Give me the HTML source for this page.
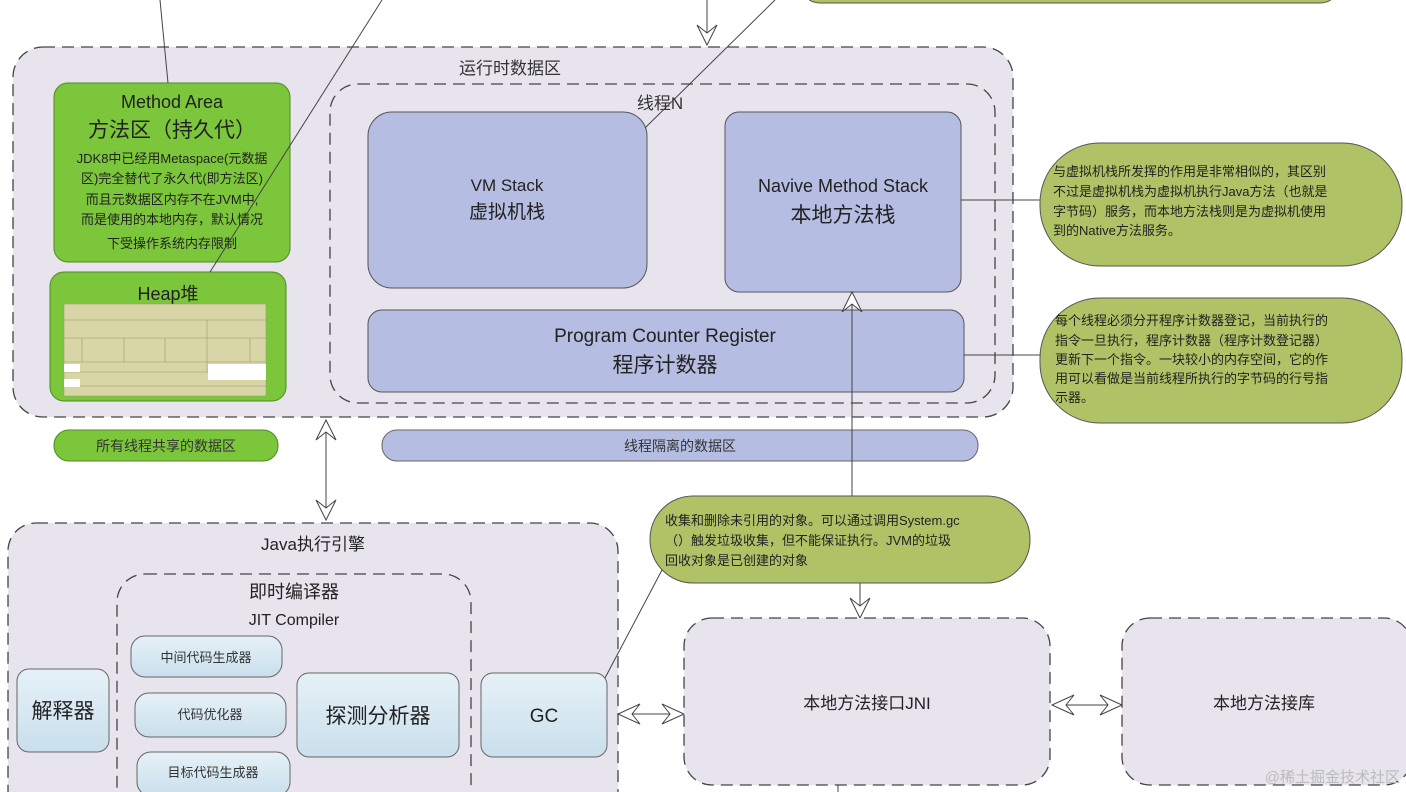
<!DOCTYPE html>
<html><head><meta charset="utf-8"><style>
html,body{margin:0;padding:0;background:#fff;width:1406px;height:792px;overflow:hidden;}
svg{display:block;font-family:"Liberation Sans","Noto Sans CJK SC",sans-serif;}
</style></head><body>
<svg width="1406" height="792" viewBox="0 0 1406 792" xmlns="http://www.w3.org/2000/svg">
<defs>
<linearGradient id="bl" x1="0" y1="0" x2="0" y2="1"><stop offset="0" stop-color="#e6f1f7"/><stop offset="1" stop-color="#c9dfec"/></linearGradient>
</defs>
<rect x="800" y="-40" width="540" height="43" rx="20" fill="#b0c266" stroke="#555"/>
<line x1="707" y1="0" x2="707" y2="40" stroke="#444"/>
<path d="M697 25 L707 45 L717 25 L707 33 Z" fill="#fff" stroke="#444"/>

<rect x="13" y="47" width="1000" height="370" rx="30" fill="#e7e4ee" stroke="#444" stroke-width="1.3" stroke-dasharray="12,7"/>
<text x="510" y="74" font-size="17" text-anchor="middle" fill="#333">运行时数据区</text>
<rect x="54" y="83" width="236" height="179" rx="14" fill="#7cc63c" stroke="#4f8a22"/>
<text x="172" y="108" font-size="18" text-anchor="middle" fill="#222">Method Area</text>
<text x="172" y="137" font-size="21" text-anchor="middle" fill="#222">方法区（持久代）</text>
<g font-size="13" fill="#222" text-anchor="middle">
<text x="172" y="163">JDK8中已经用Metaspace(元数据</text>
<text x="172" y="183">区)完全替代了永久代(即方法区)</text>
<text x="172" y="204">而且元数据区内存不在JVM中,</text>
<text x="172" y="224">而是使用的本地内存，默认情况</text>
<text x="172" y="248">下受操作系统内存限制</text>
</g>
<rect x="50" y="272" width="236" height="129" rx="14" fill="#7cc63c" stroke="#4f8a22"/>
<text x="168" y="300" font-size="18" text-anchor="middle" fill="#222">Heap堆</text>
<rect x="64" y="304" width="202" height="92" fill="#d8d6a6" stroke="#9a9870" stroke-width="0.5"/>
<g stroke="#9a9870" stroke-width="0.6"><line x1="64" y1="320" x2="266" y2="320"/><line x1="64" y1="338" x2="266" y2="338"/><line x1="64" y1="362" x2="266" y2="362"/><line x1="64" y1="372" x2="266" y2="372"/><line x1="64" y1="386" x2="266" y2="386"/><line x1="207" y1="320" x2="207" y2="372"/><line x1="82" y1="338" x2="82" y2="362"/><line x1="124" y1="338" x2="124" y2="362"/><line x1="165" y1="338" x2="165" y2="362"/><line x1="250" y1="338" x2="250" y2="362"/></g>
<rect x="64" y="364" width="16" height="8" fill="#fff"/><rect x="208" y="364" width="58" height="16" fill="#fff"/><rect x="64" y="379" width="16" height="8" fill="#fff"/>

<rect x="330" y="84" width="665" height="319" rx="28" fill="none" stroke="#444" stroke-width="1.3" stroke-dasharray="12,7"/>
<text x="660" y="109" font-size="17" text-anchor="middle" fill="#333">线程N</text>
<rect x="368" y="112" width="279" height="176" rx="24" fill="#b5bee2" stroke="#555"/>
<text x="507" y="191" font-size="17" text-anchor="middle" fill="#222">VM Stack</text>
<text x="507" y="218" font-size="19" text-anchor="middle" fill="#222">虚拟机栈</text>
<rect x="725" y="112" width="236" height="180" rx="14" fill="#b5bee2" stroke="#555"/>
<text x="843" y="192" font-size="18" text-anchor="middle" fill="#222">Navive Method Stack</text>
<text x="843" y="222" font-size="21" text-anchor="middle" fill="#222">本地方法栈</text>
<rect x="368" y="310" width="596" height="82" rx="14" fill="#b5bee2" stroke="#555"/>
<text x="665" y="342" font-size="19" text-anchor="middle" fill="#222">Program Counter Register</text>
<text x="665" y="372" font-size="21" text-anchor="middle" fill="#222">程序计数器</text>

<!-- crossing lines on top -->
<line x1="160" y1="0" x2="168" y2="83" stroke="#444"/>
<line x1="382" y1="0" x2="210" y2="272" stroke="#444"/>
<line x1="775" y1="0" x2="645" y2="128" stroke="#444"/>

<line x1="961" y1="200" x2="1042" y2="200" stroke="#444"/>
<line x1="964" y1="355" x2="1042" y2="355" stroke="#444"/>
<rect x="1040" y="143" width="362" height="123" rx="60" fill="#b0c266" stroke="#555"/>
<g font-size="13" fill="#222"><text x="1053" y="176">与虚拟机栈所发挥的作用是非常相似的，其区别</text><text x="1053" y="196">不过是虚拟机栈为虚拟机执行Java方法（也就是</text><text x="1053" y="216">字节码）服务，而本地方法栈则是为虚拟机使用</text><text x="1053" y="235">到的Native方法服务。</text></g>
<rect x="1040" y="298" width="362" height="125" rx="60" fill="#b0c266" stroke="#555"/>
<g font-size="13" fill="#222"><text x="1055" y="325">每个线程必须分开程序计数器登记，当前执行的</text><text x="1055" y="345">指令一旦执行，程序计数器（程序计数登记器）</text><text x="1055" y="364">更新下一个指令。一块较小的内存空间，它的作</text><text x="1055" y="383">用可以看做是当前线程所执行的字节码的行号指</text><text x="1055" y="402">示器。</text></g>

<rect x="54" y="430" width="224" height="31" rx="15" fill="#7cc63c" stroke="#4f8a22"/>
<text x="166" y="451" font-size="14" text-anchor="middle" fill="#333">所有线程共享的数据区</text>
<rect x="382" y="430" width="596" height="31" rx="15" fill="#b5bee2" stroke="#666"/>
<text x="680" y="451" font-size="14" text-anchor="middle" fill="#333">线程隔离的数据区</text>

<g fill="#fff" stroke="#444">
<line x1="326" y1="425" x2="326" y2="518"/>
<path d="M316 440 L326 420 L336 440 L326 432 Z"/>
<path d="M316 500 L326 520 L336 500 L326 508 Z"/>
<line x1="852" y1="296" x2="852" y2="496"/>
<path d="M842 312 L852 292 L862 312 L852 304 Z"/>
<line x1="860" y1="583" x2="860" y2="615"/>
<path d="M850 598 L860 618 L870 598 L860 606 Z"/>
<line x1="622" y1="714" x2="680" y2="714"/>
<path d="M640 704 L618 714 L640 724 L632 714 Z"/>
<path d="M662 704 L684 714 L662 724 L670 714 Z"/>
<line x1="1054" y1="705" x2="1118" y2="705"/>
<path d="M1074 695 L1052 705 L1074 715 L1066 705 Z"/>
<path d="M1100 695 L1122 705 L1100 715 L1108 705 Z"/>
</g>

<rect x="650" y="496" width="380" height="87" rx="43" fill="#b0c266" stroke="#555"/>
<g font-size="13" fill="#222"><text x="665" y="525">收集和删除未引用的对象。可以通过调用System.gc</text><text x="665" y="545">（）触发垃圾收集，但不能保证执行。JVM的垃圾</text><text x="665" y="565">回收对象是已创建的对象</text></g>

<rect x="8" y="523" width="610" height="300" rx="28" fill="#e7e4ee" stroke="#444" stroke-width="1.3" stroke-dasharray="12,7"/>
<text x="313" y="550" font-size="17" text-anchor="middle" fill="#222">Java执行引擎</text>
<rect x="117" y="574" width="354" height="260" rx="28" fill="none" stroke="#444" stroke-width="1.3" stroke-dasharray="12,7"/>
<text x="294" y="598" font-size="18" text-anchor="middle" fill="#222">即时编译器</text>
<text x="294" y="625" font-size="16" text-anchor="middle" fill="#222">JIT Compiler</text>
<g fill="url(#bl)" stroke="#666">
<rect x="17" y="669" width="92" height="83" rx="12"/>
<rect x="131" y="636" width="151" height="41" rx="14"/>
<rect x="135" y="693" width="151" height="44" rx="14"/>
<rect x="137" y="752" width="153" height="44" rx="14"/>
<rect x="297" y="673" width="162" height="84" rx="12"/>
<rect x="481" y="673" width="126" height="84" rx="12"/>
</g>
<line x1="605" y1="678" x2="662" y2="570" stroke="#444"/>
<text x="63" y="718" font-size="21" text-anchor="middle" fill="#222">解释器</text>
<text x="206" y="662" font-size="13" text-anchor="middle" fill="#333">中间代码生成器</text>
<text x="210" y="719" font-size="13" text-anchor="middle" fill="#333">代码优化器</text>
<text x="213" y="777" font-size="13" text-anchor="middle" fill="#333">目标代码生成器</text>
<text x="378" y="723" font-size="21" text-anchor="middle" fill="#222">探测分析器</text>
<text x="544" y="722" font-size="19" text-anchor="middle" fill="#222">GC</text>

<rect x="684" y="618" width="366" height="167" rx="28" fill="#e7e4ee" stroke="#444" stroke-width="1.3" stroke-dasharray="12,7"/>
<text x="867" y="709" font-size="17" text-anchor="middle" fill="#222">本地方法接口JNI</text>
<rect x="1122" y="618" width="290" height="167" rx="28" fill="#e7e4ee" stroke="#444" stroke-width="1.3" stroke-dasharray="12,7"/>
<text x="1264" y="709" font-size="17" text-anchor="middle" fill="#222">本地方法接库</text>
<line x1="838" y1="785" x2="838" y2="792" stroke="#444"/>
<text x="1400" y="782" font-size="15" text-anchor="end" fill="#bbb">@稀土掘金技术社区</text>
</svg>
</body></html>
